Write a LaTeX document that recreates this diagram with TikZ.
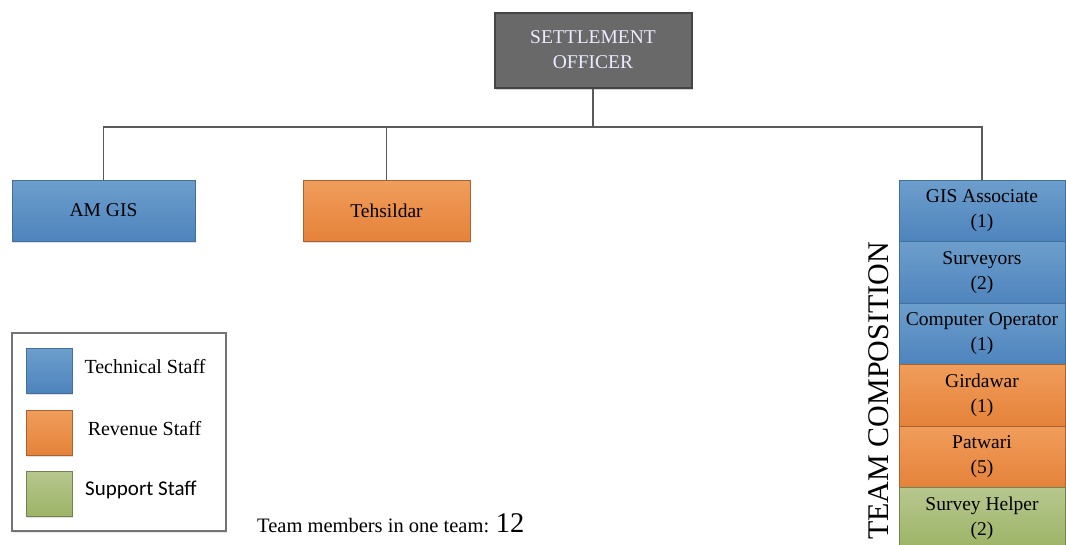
\documentclass[tikz,border=0pt]{standalone}
\usepackage{fontspec}
\setmainfont{Liberation Serif}
\newfontfamily\calfont{Carlito}
\usetikzlibrary{shadows}
\definecolor{blueA}{HTML}{6D9ECC}
\definecolor{blueB}{HTML}{4E84BD}
\definecolor{blueE}{HTML}{40709E}
\definecolor{orgA}{HTML}{F09D5B}
\definecolor{orgB}{HTML}{E5823A}
\definecolor{orgE}{HTML}{A86234}
\definecolor{grnA}{HTML}{B7C78F}
\definecolor{grnB}{HTML}{9CB466}
\definecolor{grnE}{HTML}{72834F}
\definecolor{headF}{HTML}{696969}
\definecolor{headE}{HTML}{454545}
\definecolor{wire}{HTML}{5A5A5A}
\tikzset{
  txt/.style={font=\fontsize{19.5}{25}\selectfont, text=black, align=center},
  card/.style={txt, rectangle, inner sep=0pt, line width=1pt,
    drop shadow={shadow xshift=1.2pt, shadow yshift=-1.5pt, opacity=0.25}},
  tech/.style={card, draw=blueE, top color=blueA, bottom color=blueB},
  rev/.style={card, draw=orgE, top color=orgA, bottom color=orgB},
  supp/.style={card, draw=grnE, top color=grnA, bottom color=grnB},
  stack/.style={txt, rectangle, inner sep=0pt, outer sep=0pt, line width=1pt,
    minimum width=166pt, minimum height=61.5pt},
  wiring/.style={draw=wire, line width=1.3pt},
}
\begin{document}
\begin{tikzpicture}[x=1pt, y=-1pt]
\useasboundingbox (0,0) rectangle (1066,544);
\clip (0,0) rectangle (1066,544);

% head of the office
\node[card, draw=headE, fill=headF, line width=2pt, minimum width=197pt, minimum height=75pt,
      text=white!92!blue, drop shadow={shadow xshift=1.5pt, shadow yshift=-2pt, opacity=0.35}]
  (head) at (593,50) {SETTLEMENT\\OFFICER};

% direct reports
\node[tech, minimum width=183pt, minimum height=61pt] (amgis) at (103.5,210.5) {AM GIS};
\node[rev, minimum width=167pt, minimum height=61pt] (tehs) at (386.5,210.5) {Tehsildar};

% team composition stack
\node[stack, draw=blueE, top color=blueA, bottom color=blueB, anchor=north] (gis) at (982,180) {GIS Associate\\(1)};
\node[stack, draw=blueE, top color=blueA, bottom color=blueB, anchor=north] (surv) at (gis.south) {Surveyors\\(2)};
\node[stack, draw=blueE, top color=blueA, bottom color=blueB, anchor=north] (comp) at (surv.south) {Computer Operator\\(1)};
\node[stack, draw=orgE, top color=orgA, bottom color=orgB, anchor=north] (gird) at (comp.south) {Girdawar\\(1)};
\node[stack, draw=orgE, top color=orgA, bottom color=orgB, anchor=north] (patw) at (gird.south) {Patwari\\(5)};
\node[stack, draw=grnE, top color=grnA, bottom color=grnB, anchor=north] (help) at (patw.south) {Survey Helper\\(2)};

\node[font=\fontsize{30}{30}\selectfont, rotate=90, anchor=base east, inner sep=0pt]
  (teamlbl) at (888.5,242) {TEAM COMPOSITION};

% connectors
\coordinate (bus) at (593,127);
\draw[wiring] (head.south) -- (bus);
\draw[wiring] (amgis.north) |- (bus) -| (gis.north);
\draw[wiring] (tehs.north) -- (tehs.north |- bus);

% legend
\node[draw=gray!90!black, line width=1.2pt, fill=white, minimum width=214pt, minimum height=198pt,
      drop shadow={shadow xshift=1pt, shadow yshift=-1.5pt, opacity=0.2}] (legend) at (119,432) {};
\node[tech, minimum width=46pt, minimum height=45pt] (swT) at (49,370.5) {};
\node[rev, minimum width=46pt, minimum height=45pt] (swR) at (49,432.5) {};
\node[supp, minimum width=46pt, minimum height=45pt] (swS) at (49,493.5) {};
\node[txt, font=\fontsize{20}{20}\selectfont] (lgT) at (145,367) {Technical Staff};
\node[txt, font=\fontsize{20}{20}\selectfont] (lgR) at (144.5,429) {Revenue Staff};
\node[txt, font=\fontsize{21}{21}\selectfont\calfont] (lgS) at (141,490) {Support Staff};

% team size
\node[font=\fontsize{20.5}{21}\selectfont, anchor=base west, inner sep=0pt] (members) at (257,532)
  {Team members in one team: \fontsize{28.5}{29}\selectfont 12};
\end{tikzpicture}
\end{document}
